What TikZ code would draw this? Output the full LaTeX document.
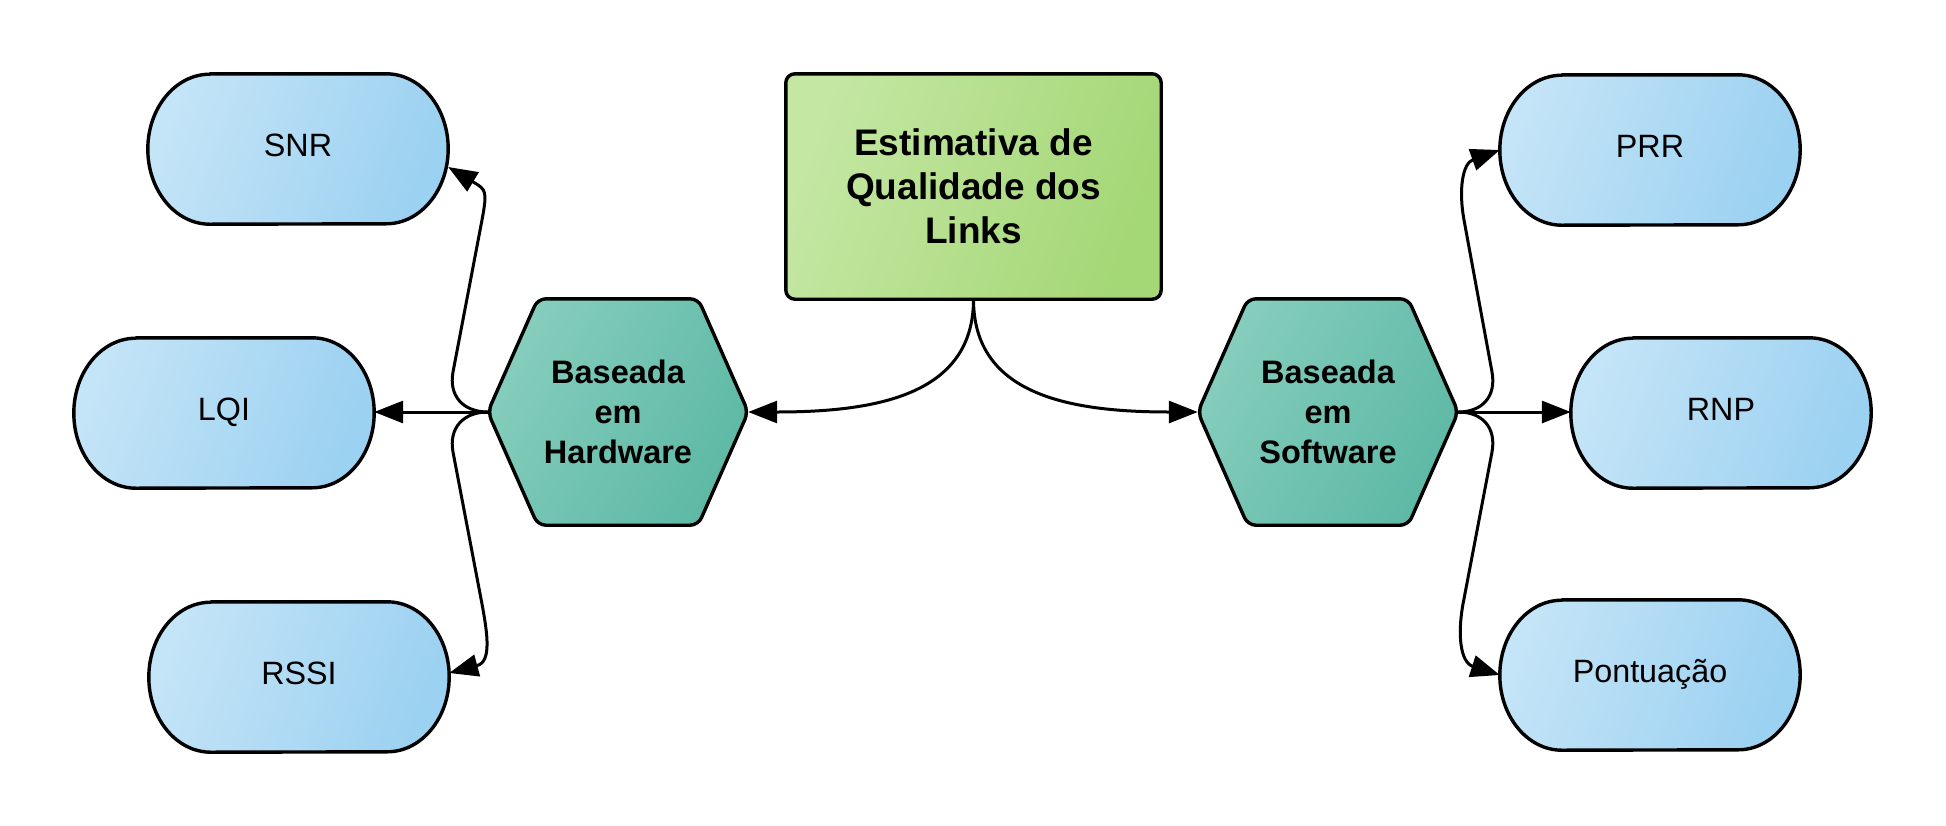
\documentclass[tikz,border=0pt]{standalone}
\usepackage{fontspec}
\setmainfont{Liberation Sans}
\usetikzlibrary{arrows.meta,backgrounds}
\definecolor{bluelt}{HTML}{C4E4F7}
\definecolor{bluedk}{HTML}{9BD1F1}
\definecolor{greenlt}{HTML}{C4E7A3}
\definecolor{greendk}{HTML}{A4D776}
\definecolor{teallt}{HTML}{86CDBD}
\definecolor{tealdk}{HTML}{5DB9A5}
\tikzset{
  pilltext/.style={inner sep=0pt, minimum width=300pt, minimum height=150pt,
    font=\fontsize{32.3}{38}\selectfont, text height=23pt, text depth=8pt},
  hextext/.style={inner sep=0pt, minimum width=260pt, minimum height=226pt,
    font=\fontsize{32.5}{40}\selectfont\bfseries, align=center},
  maintext/.style={inner sep=0pt, minimum width=375pt, minimum height=225pt,
    font=\fontsize{37}{44}\selectfont\bfseries, align=center},
  shapeline/.style={draw=black, line width=3.4pt, line join=round},
  bluefill/.style={shapeline, top color=bluelt, bottom color=bluedk, shading angle=70},
  greenfill/.style={shapeline, top color=greenlt, bottom color=greendk, shading angle=70},
  tealfill/.style={shapeline, top color=teallt, bottom color=tealdk, shading angle=60},
  conn/.style={draw=black, line width=3pt, -{Triangle[length=29pt,width=22pt]}},
}
\newcommand\pillshape[2]{\path[#2] ([xshift=62pt]#1.north west) -- ([xshift=-62pt]#1.north east)
  arc[start angle=90,end angle=-90,x radius=62pt,y radius=75pt]
  -- ([xshift=62pt]#1.south west)
  arc[start angle=270,end angle=90,x radius=62pt,y radius=75pt] -- cycle;}
\newcommand\hexshape[2]{\path[#2, rounded corners=8pt] (#1.west) -- ([xshift=50pt]#1.north west)
  -- ([xshift=-50pt]#1.north east) -- (#1.east) -- ([xshift=-50pt]#1.south east)
  -- ([xshift=50pt]#1.south west) -- cycle;}
\begin{document}
\begin{tikzpicture}[x=1pt,y=1pt]
\useasboundingbox (0,0) rectangle (1946,-825);
% nodes
\node[maintext] (main) at (973.5,-186.5) {Estimativa de\\Qualidade dos\\Links};
\node[hextext] (hw) at (618,-412) {Baseada\\em\\Hardware};
\node[hextext] (sw) at (1328,-412) {Baseada\\em\\Software};
\node[pilltext] (snr) at (298,-149) {SNR};
\node[pilltext] (lqi) at (224,-413) {LQI};
\node[pilltext] (rssi) at (299,-677) {RSSI};
\node[pilltext] (prr) at (1650,-150) {PRR};
\node[pilltext] (rnp) at (1721,-413) {RNP};
\node[pilltext] (pont) at (1650,-675) {Pontuação};
% shapes
\begin{scope}[on background layer]
  \path[greenfill, rounded corners=9pt] (main.north west) rectangle (main.south east);
  \hexshape{hw}{tealfill}
  \hexshape{sw}{tealfill}
  \pillshape{snr}{bluefill}
  \pillshape{lqi}{bluefill}
  \pillshape{rssi}{bluefill}
  \pillshape{prr}{bluefill}
  \pillshape{rnp}{bluefill}
  \pillshape{pont}{bluefill}
\end{scope}
% waypoints
\coordinate (a1) at (453,-372);
\coordinate (a2) at (482,-220);
\coordinate (b1) at (453,-452);
\coordinate (b2) at (482,-604);
\coordinate (c1) at (1492,-372);
\coordinate (c2) at (1464,-220);
\coordinate (d1) at (1492,-452);
\coordinate (d2) at (1463,-604);
\coordinate (snrtip) at ([yshift=-18pt]snr.east);
\coordinate (rssitip) at ([yshift=4pt]rssi.east);
% connectors
\draw[conn] (main.south) .. controls +(0,-95) and +(130,0) .. (hw.east);
\draw[conn] (main.south) .. controls +(0,-95) and +(-130,0) .. (sw.west);
\draw[conn] (hw.west) -- (hw.west -| lqi.east);
\draw[conn] (sw.east) -- (sw.east -| rnp.west);
\draw[conn] (hw.west) .. controls +(-24,0) and +(-4.5,-24.5) .. (a1) -- (a2)
  .. controls +(5.4,29.4) and +(12.9,-7.7) .. ([shift={(25,-15)}]snrtip) -- (snrtip);
\draw[conn] (hw.west) .. controls +(-24,0) and +(-4.5,24.5) .. (b1) -- (b2)
  .. controls +(5.4,-29.4) and +(14.5,3.9) .. ([shift={(28,7.5)}]rssitip) -- (rssitip);
\draw[conn] (sw.east) .. controls +(24,0) and +(4.5,-24.5) .. (c1) -- (c2)
  .. controls +(-5.4,29.4) and +(-11.3,-4) .. ([shift={(-26.4,-9.4)}]prr.west) -- (prr.west);
\draw[conn] (sw.east) .. controls +(24,0) and +(4.5,24.5) .. (d1) -- (d2)
  .. controls +(-5.4,-29.4) and +(-13.3,4.3) .. ([shift={(-26.7,8.5)}]pont.west) -- (pont.west);
\end{tikzpicture}
\end{document}
